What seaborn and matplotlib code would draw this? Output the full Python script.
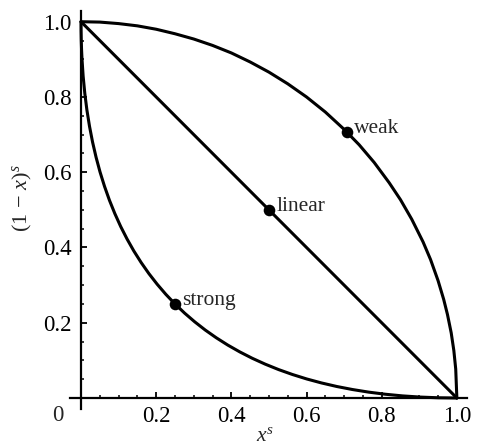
import numpy as np
import pandas as pd
import matplotlib
matplotlib.use("Agg")
import matplotlib.pyplot as plt
import seaborn as sns
from matplotlib.ticker import FixedLocator

# ---- data ----
weak_x = [0.0, 0.05, 0.1, 0.15, 0.2, 0.25, 0.3, 0.35, 0.4, 0.45, 0.5, 0.55, 0.6, 0.65, 0.7,
          0.74, 0.78, 0.82, 0.85, 0.88, 0.91, 0.93, 0.95, 0.965, 0.975, 0.985, 0.992, 0.997, 1.0]
weak_y = [1.0, 0.999, 0.995, 0.989, 0.980, 0.968, 0.954, 0.937, 0.917, 0.893, 0.866, 0.835,
          0.800, 0.760, 0.714, 0.673, 0.626, 0.572, 0.527, 0.475, 0.415, 0.368, 0.312, 0.262,
          0.222, 0.173, 0.126, 0.077, 0.0]

linear_x = [0.0, 1.0]
linear_y = [1.0, 0.0]

strong_x = [0.0, 0.000156, 0.000625, 0.0014, 0.0025, 0.0056, 0.01, 0.0156, 0.0225, 0.0306,
            0.04, 0.0506, 0.0625, 0.0756, 0.09, 0.1056, 0.1225, 0.1406, 0.16, 0.1806, 0.2025,
            0.2256, 0.25, 0.2756, 0.3025, 0.3306, 0.36, 0.3906, 0.4225, 0.4556, 0.49, 0.5256,
            0.5625, 0.6006, 0.64, 0.6806, 0.7225, 0.7656, 0.81, 0.8556, 0.9025, 0.9506, 1.0]
strong_y = [1.0, 0.9752, 0.9506, 0.9264, 0.9025, 0.8556, 0.81, 0.7656, 0.7225, 0.6806,
            0.64, 0.6006, 0.5625, 0.5256, 0.49, 0.4556, 0.4225, 0.3906, 0.36, 0.3306, 0.3025,
            0.2756, 0.25, 0.2256, 0.2025, 0.1806, 0.16, 0.1406, 0.1225, 0.1056, 0.09, 0.0756,
            0.0625, 0.0506, 0.04, 0.0306, 0.0225, 0.0156, 0.01, 0.0056, 0.0025, 0.000625, 0.0]

point_labels = ["strong", "linear", "weak"]
point_x = [0.25, 0.5, 0.707]
point_y = [0.25, 0.5, 0.707]

x_ticks = [0.2, 0.4, 0.6, 0.8, 1.0]
y_ticks = [0.2, 0.4, 0.6, 0.8, 1.0]
tick_labels = ["0.2", "0.4", "0.6", "0.8", "1.0"]

# ---- style ----
sns.set_style("white")
plt.rcParams["font.family"] = ["Liberation Serif", "DejaVu Serif"]
plt.rcParams["mathtext.fontset"] = "custom"
plt.rcParams["mathtext.rm"] = "Liberation Serif"
plt.rcParams["mathtext.it"] = "Liberation Serif:italic"

fig = plt.figure(figsize=(4.84, 4.48), dpi=100)
W, H = 484, 448
left_px, right_px = 69.75, 467.0
bot_px, top_px = 409.3, 10.8
ax = fig.add_axes([left_px / W, 1 - bot_px / H, (right_px - left_px) / W, (bot_px - top_px) / H])

lw = 2.2
for xs, ys in [(weak_x, weak_y), (linear_x, linear_y), (strong_x, strong_y)]:
    df = pd.DataFrame({"x": xs, "y": ys})
    sns.lineplot(data=df, x="x", y="y", sort=False, estimator=None, color="black",
                 linewidth=lw, ax=ax, clip_on=False)

pts = pd.DataFrame({"x": point_x, "y": point_y, "label": point_labels})
sns.scatterplot(data=pts, x="x", y="y", color="black", s=70, edgecolor="black",
                linewidth=0, ax=ax, zorder=5, clip_on=False)
for lab, px, py in zip(point_labels, point_x, point_y):
    ax.annotate(lab, (px, py), xytext=(5.5, -0.5), textcoords="offset points",
                ha="left", va="baseline", fontsize=15.5)

ax.set_xlim(-0.03, 1.027)
ax.set_ylim(-0.03, 1.029)
for s in ["top", "right"]:
    ax.spines[s].set_visible(False)
ax.spines["left"].set_position(("data", 0))
ax.spines["bottom"].set_position(("data", 0))
for s in ["left", "bottom"]:
    ax.spines[s].set_linewidth(1.6)
    ax.spines[s].set_color("black")

minor = [v / 20 for v in range(1, 20) if v % 4 != 0]
ax.xaxis.set_major_locator(FixedLocator(x_ticks))
ax.yaxis.set_major_locator(FixedLocator(y_ticks))
ax.set_xticklabels(tick_labels)
ax.set_yticklabels(tick_labels)
ax.xaxis.set_minor_locator(FixedLocator(minor))
ax.yaxis.set_minor_locator(FixedLocator(minor))
ax.tick_params(which="both", bottom=True, left=True, top=False, right=False)
ax.tick_params(which="major", direction="in", length=4.5, width=1.3, colors="black",
               labelsize=16.5, pad=6)
ax.tick_params(which="minor", direction="in", length=2.5, width=1.1, colors="black")
ax.tick_params(axis="y", which="major", pad=7)
ax.set_xlabel("")
ax.set_ylabel("")

fig.text(57.5 / W, 1 - 415 / H, "0", ha="center", va="center", fontsize=16.5)
fig.text(265 / W, 1 - 436 / H, r"$x^s$", ha="center", va="center", fontsize=15.5)
fig.text(22 / W, 1 - 198 / H, r"$(1\,-\,x)^s$", ha="center", va="center", fontsize=16, rotation=90)

fig.savefig("out.png", dpi=100)
